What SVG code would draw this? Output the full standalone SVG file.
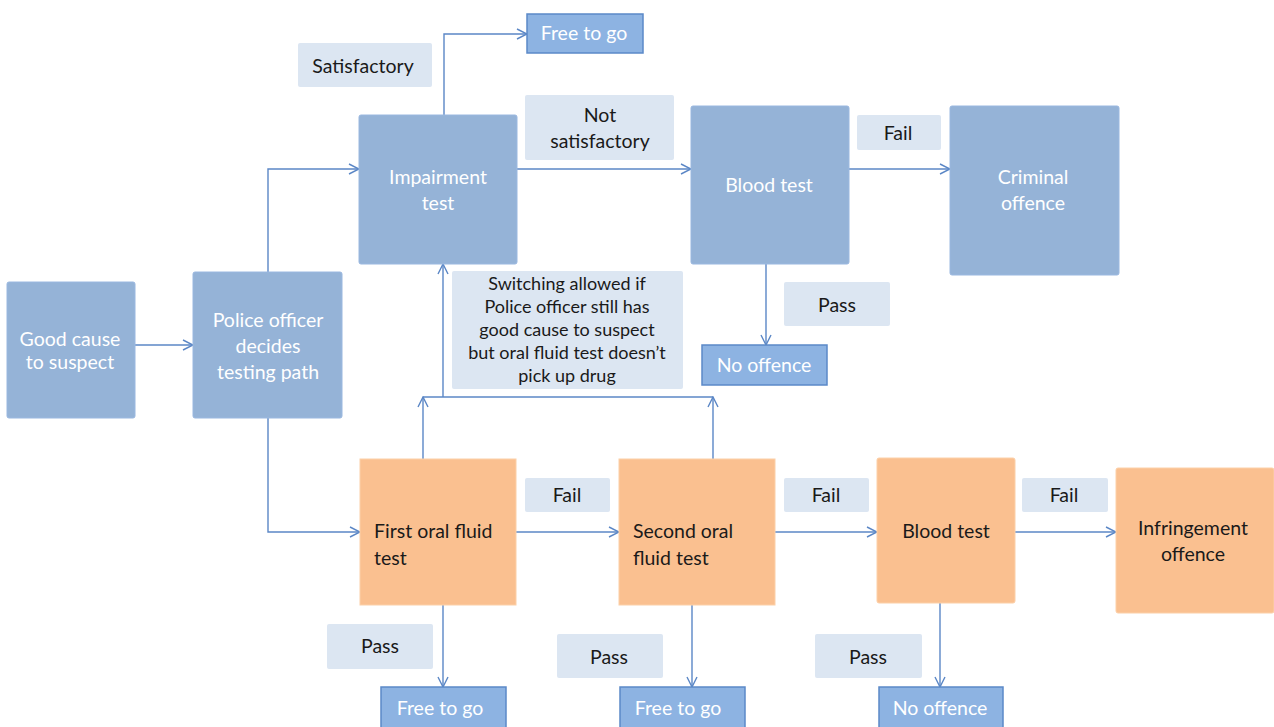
<svg xmlns="http://www.w3.org/2000/svg" width="1274" height="727" viewBox="0 0 1274 727">
<defs>
<style>
.big{fill:#95b3d7;stroke:#9ab8e0;stroke-width:1}
.small{fill:#8db3e2;stroke:#5b89c8;stroke-width:1.5}
.org{fill:#fac090;stroke:#fcd0a8;stroke-width:1}
.lbl{fill:#dce6f2}
text{font-family:Lato,"Open Sans","Liberation Sans",sans-serif;font-size:19.5px}
.note{font-size:18px}
.w{fill:#ffffff;text-anchor:middle}
.d{fill:#1a1a1a;text-anchor:middle}
.dl{fill:#1a1a1a}
.c{fill:none;stroke:#5b87c6;stroke-width:1.4}
</style>
<marker id="a" viewBox="0 0 12 12" refX="11" refY="6" markerWidth="12" markerHeight="12" markerUnits="userSpaceOnUse" orient="auto">
<path d="M1,1 L11,6 L1,11" fill="none" stroke="#5b87c6" stroke-width="1.4"/>
</marker>
</defs>
<rect width="1274" height="727" fill="#ffffff"/>
<g id="connectors">
<path class="c" d="M135,345 H193" marker-end="url(#a)"/>
<path class="c" d="M268,272 V169 H359" marker-end="url(#a)"/>
<path class="c" d="M268,418 V532 H360" marker-end="url(#a)"/>
<path class="c" d="M444,115 V34 H527" marker-end="url(#a)"/>
<path class="c" d="M517,169 H691" marker-end="url(#a)"/>
<path class="c" d="M849,169 H950" marker-end="url(#a)"/>
<path class="c" d="M766,264 V345" marker-end="url(#a)"/>
<path class="c" d="M516,532 H619" marker-end="url(#a)"/>
<path class="c" d="M775,532 H877" marker-end="url(#a)"/>
<path class="c" d="M1015,532 H1116" marker-end="url(#a)"/>
<path class="c" d="M443,605 V687" marker-end="url(#a)"/>
<path class="c" d="M692,605 V687" marker-end="url(#a)"/>
<path class="c" d="M940,603 V687" marker-end="url(#a)"/>
<path class="c" d="M423,459 V397" marker-end="url(#a)"/>
<path class="c" d="M713,459 V397" marker-end="url(#a)"/>
<path class="c" d="M423,397 H713"/>
<path class="c" d="M443,397 V264" marker-end="url(#a)"/>
</g>
<g id="good-cause"><rect class="big" x="7" y="282" width="128" height="136" rx="2"/><text class="w" x="70" y="346">Good cause</text><text class="w" x="70" y="369">to suspect</text></g>
<g id="police"><rect class="big" x="193" y="272" width="149" height="146" rx="2"/><text class="w" x="268" y="327">Police officer</text><text class="w" x="268" y="353">decides</text><text class="w" x="268" y="379">testing path</text></g>
<g id="impairment"><rect class="big" x="359" y="115" width="158" height="149" rx="2"/><text class="w" x="438" y="184">Impairment</text><text class="w" x="438" y="210">test</text></g>
<g id="blood-top"><rect class="big" x="691" y="106" width="158" height="158" rx="2"/><text class="w" x="769" y="192">Blood test</text></g>
<g id="criminal"><rect class="big" x="950" y="106" width="169" height="169" rx="2"/><text class="w" x="1033" y="184">Criminal</text><text class="w" x="1033" y="210">offence</text></g>
<g id="free-top"><rect class="small" x="527" y="14" width="116" height="39"/><text class="w" x="584" y="40">Free to go</text></g>
<g id="no-offence-top"><rect class="small" x="702" y="345" width="125" height="40"/><text class="w" x="764" y="372">No offence</text></g>
<g id="first-oral"><rect class="org" x="360" y="459" width="156" height="146"/><text class="dl" x="374" y="538">First oral fluid</text><text class="dl" x="374" y="565">test</text></g>
<g id="second-oral"><rect class="org" x="619" y="459" width="156" height="146"/><text class="dl" x="633" y="538">Second oral</text><text class="dl" x="633" y="565">fluid test</text></g>
<g id="blood-bottom"><rect class="org" x="877" y="458" width="138" height="145" rx="2"/><text class="d" x="946" y="538">Blood test</text></g>
<g id="infringement"><rect class="org" x="1116" y="468" width="158" height="145" rx="2"/><text class="d" x="1193" y="535">Infringement</text><text class="d" x="1193" y="561">offence</text></g>
<g id="free-1"><rect class="small" x="381" y="687" width="125" height="45"/><text class="w" x="440" y="715">Free to go</text></g>
<g id="free-2"><rect class="small" x="620" y="687" width="125" height="45"/><text class="w" x="678" y="715">Free to go</text></g>
<g id="no-offence-bottom"><rect class="small" x="879" y="687" width="124" height="45"/><text class="w" x="940" y="715">No offence</text></g>
<g id="lbl-satisfactory"><rect class="lbl" x="298" y="43" width="134" height="44" rx="2"/><text class="d" x="363" y="73">Satisfactory</text></g>
<g id="lbl-not-satisfactory"><rect class="lbl" x="525" y="95" width="149" height="65" rx="2"/><text class="d" x="600" y="122">Not</text><text class="d" x="600" y="148">satisfactory</text></g>
<g id="lbl-fail-top"><rect class="lbl" x="857" y="115" width="84" height="35" rx="2"/><text class="d" x="898" y="140">Fail</text></g>
<g id="lbl-pass-top"><rect class="lbl" x="784" y="282" width="106" height="44" rx="2"/><text class="d" x="837" y="312">Pass</text></g>
<g id="lbl-switching"><rect class="lbl" x="452" y="271" width="231" height="118" rx="2"/>
<text class="d note" x="567" y="290">Switching allowed if</text>
<text class="d note" x="567" y="313">Police officer still has</text>
<text class="d note" x="567" y="336">good cause to suspect</text>
<text class="d note" x="567" y="359">but oral fluid test doesn’t</text>
<text class="d note" x="567" y="382">pick up drug</text></g>
<g id="lbl-fail-1"><rect class="lbl" x="525" y="478" width="85" height="34" rx="2"/><text class="d" x="567" y="502">Fail</text></g>
<g id="lbl-fail-2"><rect class="lbl" x="784" y="478" width="85" height="34" rx="2"/><text class="d" x="826" y="502">Fail</text></g>
<g id="lbl-fail-3"><rect class="lbl" x="1022" y="478" width="86" height="34" rx="2"/><text class="d" x="1064" y="502">Fail</text></g>
<g id="lbl-pass-1"><rect class="lbl" x="327" y="624" width="106" height="45" rx="2"/><text class="d" x="380" y="653">Pass</text></g>
<g id="lbl-pass-2"><rect class="lbl" x="557" y="634" width="106" height="44" rx="2"/><text class="d" x="609" y="664">Pass</text></g>
<g id="lbl-pass-3"><rect class="lbl" x="815" y="634" width="107" height="44" rx="2"/><text class="d" x="868" y="664">Pass</text></g>
</svg>
